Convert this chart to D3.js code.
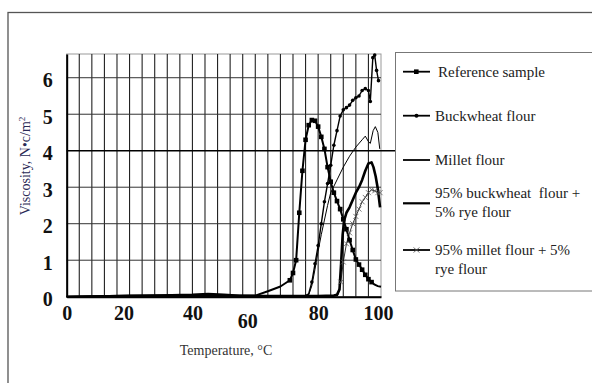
<!DOCTYPE html>
<html>
<head>
<meta charset="utf-8">
<script src="https://cdn.jsdelivr.net/npm/d3@7"></script>
<style>
  body { margin: 0; background: #fff; }
  svg { display: block; }
  text { font-family: "Liberation Serif", "DejaVu Serif", serif; }
</style>
</head>
<body>
<svg id="chart"></svg>
<script>
// temperature (°C) and viscosity (N·c/m²)
const refT = [0, 10, 20, 30, 40, 45, 50, 55, 60, 64, 68, 71, 72, 73, 74, 75, 76, 77, 78, 79, 80, 81, 82, 83, 84, 85, 86, 87, 88, 89, 90, 91, 92, 93, 94, 95, 96, 97, 98, 99, 100];
const refV = [0, 0.01, 0.03, 0.04, 0.06, 0.08, 0.06, 0.03, 0.03, 0.15, 0.28, 0.45, 0.65, 1.0, 2.3, 3.45, 4.3, 4.7, 4.84, 4.82, 4.66, 4.38, 4.05, 3.55, 3.15, 2.85, 2.62, 2.4, 2.12, 1.85, 1.55, 1.28, 1.02, 0.88, 0.74, 0.6, 0.48, 0.4, 0.33, 0.29, 0.27];

const buckT = [0, 20, 40, 50, 60, 70, 76, 77, 78, 79, 80, 81, 82, 83, 84, 85, 86, 87, 88, 89, 90, 91, 92, 93, 94, 95, 96, 96.6, 97.4, 98, 98.6, 99.2];
const buckV = [0, 0.02, 0.05, 0.03, 0.02, 0.02, 0.03, 0.08, 0.4, 0.9, 1.4, 2.0, 2.6, 3.1, 3.6, 4.15, 4.55, 4.95, 5.12, 5.18, 5.25, 5.38, 5.45, 5.5, 5.65, 5.7, 5.65, 5.35, 6.55, 6.62, 6.2, 5.92];

const milT = [0, 20, 40, 60, 75, 77, 78, 79, 80, 81, 82, 83, 84, 86, 88, 90, 92, 94, 95, 96, 96.6, 97.5, 98.2, 99, 99.6];
const milV = [0, 0.02, 0.04, 0.02, 0.02, 0.05, 0.3, 0.75, 1.25, 1.7, 2.1, 2.5, 2.85, 3.2, 3.55, 3.85, 4.1, 4.3, 4.4, 4.25, 4.2, 4.55, 4.66, 4.5, 4.05];

const bwRyeT = [0, 20, 40, 60, 80, 85, 86, 86.8, 87.3, 87.8, 88.3, 89, 90, 91, 92, 93, 94, 95, 96, 97, 97.6, 98.3, 99, 99.7];
const bwRyeV = [0, 0.02, 0.03, 0.02, 0.02, 0.03, 0.05, 0.2, 0.9, 1.7, 2.1, 2.3, 2.45, 2.65, 2.85, 3.0, 3.2, 3.45, 3.65, 3.68, 3.55, 3.3, 2.95, 2.45];

const miRyeT = [0, 20, 40, 60, 80, 85, 86.3, 87.2, 88, 89, 90, 91, 92, 93, 94, 95, 96, 97, 98, 99, 99.7];
const miRyeV = [0, 0.02, 0.03, 0.02, 0.02, 0.02, 0.05, 0.4, 0.95, 1.45, 1.75, 2.0, 2.2, 2.4, 2.6, 2.72, 2.85, 2.93, 2.9, 2.85, 2.85];

const seriesNames = ['Reference sample', 'Buckwheat flour', 'Millet flour', '95% buckwheat  flour +|5% rye flour', '95% millet flour + 5%|rye flour'];
const xTicks = [0, 20, 40, 60, 80, 100];
const yTicks = [0, 1, 2, 3, 4, 5, 6];

const W = 592, H = 383;
const margin = { top: 54, left: 66.7, right: 211, bottom: 86.3 };
const width = W - margin.left - margin.right;
const height = H - margin.top - margin.bottom;

const svg = d3.select('#chart').attr('width', W).attr('height', H);

// outer frame
svg.append('rect')
    .attr('x', 8).attr('y', 12.5)
    .attr('width', 600).attr('height', 400)
    .attr('fill', 'none').attr('stroke', '#555').attr('stroke-width', 1.3);

const x = d3.scaleLinear().domain([0, 100]).range([0, width]);
const y = d3.scaleLinear().domain([0, 6.65]).range([height, 0]);

const g = svg.append('g').attr('transform', `translate(${margin.left},${margin.top})`);

// plot border (top/right)
g.append('rect').attr('width', width).attr('height', height)
    .attr('fill', 'none').attr('stroke', '#999').attr('stroke-width', 1);

// vertical grid every 4 degrees
g.append('g').selectAll('line')
    .data(d3.range(4, 100, 4))
    .join('line')
    .attr('x1', d => x(d)).attr('x2', d => x(d))
    .attr('y1', 0).attr('y2', height)
    .attr('stroke', '#222').attr('stroke-width', 1.1);

// horizontal grid
g.append('g').selectAll('line')
    .data(yTicks.filter(d => d > 0))
    .join('line')
    .attr('x1', 0)
    .attr('x2', d => d === 4 ? 329 : width)
    .attr('y1', d => y(d)).attr('y2', d => y(d))
    .attr('stroke', d => d === 4 ? '#000' : '#333')
    .attr('stroke-width', d => d === 4 ? 1.6 : 1);

// axes
const xAxis = d3.axisBottom(x).tickValues(xTicks).tickSize(0).tickPadding(9);
const yAxis = d3.axisLeft(y).tickValues(yTicks).tickSize(0).tickPadding(14).tickFormat(d3.format('d'));

const xAxisG = g.append('g').attr('transform', `translate(0,${height})`).call(xAxis);
const yAxisG = g.append('g').call(yAxis);

[xAxisG, yAxisG].forEach(a => {
    a.select('.domain').attr('stroke', '#000').attr('stroke-width', 2);
    a.selectAll('text')
        .attr('font-family', '"Liberation Serif", "DejaVu Serif", serif')
        .attr('font-weight', 'bold')
        .attr('font-size', 20)
        .attr('fill', '#111');
});
yAxisG.selectAll('text').attr('dy', '0.45em');
// labels 20 and 60 sit a little off in the original
xAxisG.selectAll('text')
    .attr('dx', d => d === 20 ? -6 : d === 60 ? -8 : d === 100 ? -3 : 0)
    .attr('dy', d => d === 60 ? '1.1em' : '0.71em');

// series
const line = d3.line().x(d => x(d[0])).y(d => y(d[1]));
const zip = (a, b) => a.map((t, i) => [t, b[i]]);

const series = [
    { name: seriesNames[0], pts: zip(refT, refV), w: 2, marker: 'square' },
    { name: seriesNames[1], pts: zip(buckT, buckV), w: 1.4, marker: 'dot' },
    { name: seriesNames[2], pts: zip(milT, milV), w: 1, marker: null },
    { name: seriesNames[3], pts: zip(bwRyeT, bwRyeV), w: 2.6, marker: null },
    { name: seriesNames[4], pts: zip(miRyeT, miRyeV), w: 0.8, marker: 'cross' }
];

series.forEach(s => {
    g.append('path')
        .datum(s.pts)
        .attr('d', line)
        .attr('fill', 'none')
        .attr('stroke', '#000')
        .attr('stroke-width', s.w)
        .attr('stroke-linejoin', 'round');

    const pts = s.pts.filter(d => d[1] > 0.35);
    if (s.marker === 'square') {
        g.append('g').selectAll('rect').data(pts).join('rect')
            .attr('x', d => x(d[0]) - 2.3).attr('y', d => y(d[1]) - 2.3)
            .attr('width', 4.6).attr('height', 4.6).attr('fill', '#000');
    } else if (s.marker === 'dot') {
        g.append('g').selectAll('circle').data(pts).join('circle')
            .attr('cx', d => x(d[0])).attr('cy', d => y(d[1]))
            .attr('r', 1.8).attr('fill', '#000');
    } else if (s.marker === 'cross') {
        g.append('g').selectAll('path').data(pts).join('path')
            .attr('d', d => `M${x(d[0]) - 2.5},${y(d[1]) - 2.5}L${x(d[0]) + 2.5},${y(d[1]) + 2.5}M${x(d[0]) - 2.5},${y(d[1]) + 2.5}L${x(d[0]) + 2.5},${y(d[1]) - 2.5}`)
            .attr('stroke', '#555').attr('stroke-width', 0.8);
    }
});

// axis titles
svg.append('text')
    .attr('transform', 'translate(30,166) rotate(-90)')
    .attr('text-anchor', 'middle')
    .attr('font-size', 14)
    .attr('fill', '#2a2a55')
    .html('Viscosity, N•c/m<tspan baseline-shift="super" font-size="9">2</tspan>');

svg.append('text')
    .attr('x', 226).attr('y', 355)
    .attr('text-anchor', 'middle')
    .attr('font-size', 14)
    .attr('fill', '#333')
    .text('Temperature, °C');

// legend
const legend = svg.append('g');
legend.append('rect')
    .attr('x', 395.5).attr('y', 52.5)
    .attr('width', 220).attr('height', 238.5)
    .attr('fill', '#fff').attr('stroke', '#777').attr('stroke-width', 1);

const legendY = [71.7, 115.7, 160, 203.3, 250];
series.forEach((s, i) => {
    const ly = legendY[i];
    const item = legend.append('g');
    item.append('line')
        .attr('x1', 403).attr('x2', 430)
        .attr('y1', ly).attr('y2', ly)
        .attr('stroke', '#000').attr('stroke-width', i === 3 ? 2.2 : 1.8);
    if (s.marker === 'square') {
        item.append('rect').attr('x', 414).attr('y', ly - 2.3).attr('width', 4.6).attr('height', 4.6).attr('fill', '#000');
    } else if (s.marker === 'dot') {
        item.append('circle').attr('cx', 416.5).attr('cy', ly).attr('r', 2).attr('fill', '#000');
    } else if (s.marker === 'cross') {
        item.append('path')
            .attr('d', `M413.5,${ly - 2.5}L419.5,${ly + 2.5}M413.5,${ly + 2.5}L419.5,${ly - 2.5}`)
            .attr('stroke', '#555').attr('stroke-width', 0.8);
    }
    const parts = s.name.split('|');
    const t = item.append('text')
        .attr('font-size', 15)
        .attr('fill', '#222');
    const startY = parts.length > 1 ? (i === 3 ? ly - 5 : ly + 5) : ly + 5;
    parts.forEach((p, j) => {
        t.append('tspan')
            .attr('x', i === 0 ? 438 : 435)
            .attr('y', startY + j * 19)
            .attr('xml:space', 'preserve')
            .text(p);
    });
});
</script>
</body>
</html>
